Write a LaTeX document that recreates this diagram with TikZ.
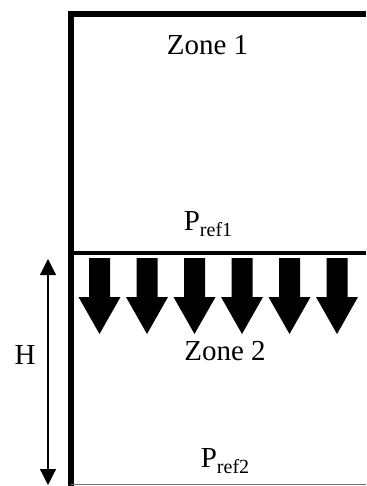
\documentclass[tikz,border=0pt]{standalone}
\usepackage{fontspec}
\setmainfont{Liberation Serif}
\usetikzlibrary{arrows.meta,positioning}
\newcommand{\Pref}[1]{P\raisebox{-6pt}{\fontsize{20}{20}\selectfont ref#1}}

\begin{document}
\begin{tikzpicture}[x=1pt, y=-1pt,
  wall/.style={line width=6pt, line join=miter},
  label/.style={font=\fontsize{29}{34}\selectfont, inner sep=0pt, anchor=base},
  flow/.style={fill=black, draw=none}]
  \useasboundingbox (0,0) rectangle (366,486);
  % walls and levels
  \draw[wall] (366,14.5) -- (71,14.5) -- (71,486);
  \draw[line width=4pt] (71,252.5) -- (366,252.5);
  \draw[line width=1.5pt, black!55] (71,484.5) -- (366,484.5);
  % flow arrows
  \foreach \c in {99.5,147,194.5,242,289.5,337}
    \fill[flow] (\c-10.5,258) -- (\c+10.5,258) -- (\c+10.5,297) -- (\c+21,297)
      -- (\c,334) -- (\c-21,297) -- (\c-10.5,297) -- cycle;
  % labels
  \node[label] (zone1) at (207.5,55) {Zone 1};
  \node[label] (pref1) at (208,230) {\Pref{1}};
  \node[label] (zone2) at (225,360) {Zone 2};
  \node[label] (pref2) at (225,467) {\Pref{2}};
  \node[label] (hlab) at (25,364) {H};
  % height
  \coordinate (htop) at (48,259);
  \coordinate (hbot) at (48,485);
  \draw[line width=1.2pt, {Triangle[length=16pt,width=16pt]}-{Triangle[length=16pt,width=16pt]}] (htop) -- (hbot);
\end{tikzpicture}
\end{document}
